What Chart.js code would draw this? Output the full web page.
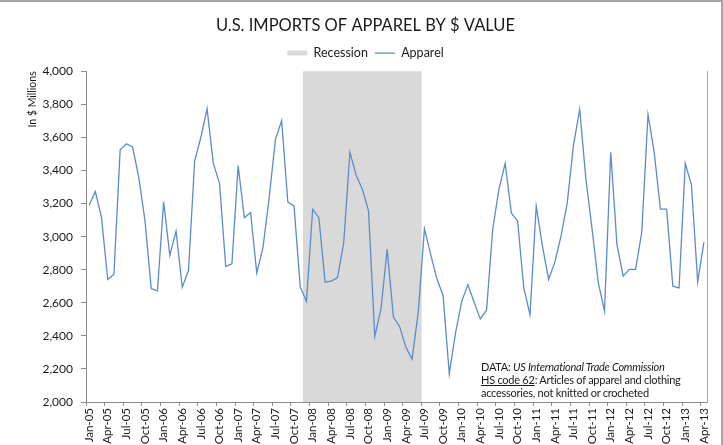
<!DOCTYPE html>
<html>
<head>
<meta charset="utf-8">
<script src="https://cdn.jsdelivr.net/npm/chart.js@4.4.0/dist/chart.umd.min.js"></script>
<style>
  body { margin: 0; background: #fff; }
  #wrap { position: relative; width: 723px; height: 445px; }
  #note {
    position: absolute; left: 481px; top: 360px;
    font-family: Lato, sans-serif; font-size: 11px; letter-spacing: -0.25px; line-height: 13px; color: #1a1a1a;
    white-space: nowrap;
  }
  #note u { text-decoration: underline; }
</style>
</head>
<body>
<div id="wrap">
  <canvas id="importsChart" width="723" height="445"></canvas>
  <div id="note">DATA: <i>US International Trade Commission</i><br><u>HS code 62</u>: Articles of apparel and clothing<br>accessories, not knitted or crocheted</div>
</div>
<script>
// monthly categories, Jan-05 .. Apr-13
var months = [
  'Jan-05','Feb-05','Mar-05','Apr-05','May-05','Jun-05','Jul-05','Aug-05','Sep-05','Oct-05','Nov-05','Dec-05',
  'Jan-06','Feb-06','Mar-06','Apr-06','May-06','Jun-06','Jul-06','Aug-06','Sep-06','Oct-06','Nov-06','Dec-06',
  'Jan-07','Feb-07','Mar-07','Apr-07','May-07','Jun-07','Jul-07','Aug-07','Sep-07','Oct-07','Nov-07','Dec-07',
  'Jan-08','Feb-08','Mar-08','Apr-08','May-08','Jun-08','Jul-08','Aug-08','Sep-08','Oct-08','Nov-08','Dec-08',
  'Jan-09','Feb-09','Mar-09','Apr-09','May-09','Jun-09','Jul-09','Aug-09','Sep-09','Oct-09','Nov-09','Dec-09',
  'Jan-10','Feb-10','Mar-10','Apr-10','May-10','Jun-10','Jul-10','Aug-10','Sep-10','Oct-10','Nov-10','Dec-10',
  'Jan-11','Feb-11','Mar-11','Apr-11','May-11','Jun-11','Jul-11','Aug-11','Sep-11','Oct-11','Nov-11','Dec-11',
  'Jan-12','Feb-12','Mar-12','Apr-12','May-12','Jun-12','Jul-12','Aug-12','Sep-12','Oct-12','Nov-12','Dec-12',
  'Jan-13','Feb-13','Mar-13','Apr-13'
];

// apparel imports, $ millions
var apparel = [
  3190, 3273, 3115, 2741, 2773, 3526, 3561, 3542, 3358, 3095, 2686, 2672,
  3210, 2887, 3034, 2694, 2795, 3459, 3601, 3773, 3443, 3322, 2820, 2836,
  3429, 3115, 3146, 2781, 2933, 3237, 3587, 3702, 3210, 3186, 2696, 2609,
  3166, 3115, 2725, 2731, 2753, 2963, 3510, 3372, 3287, 3156, 2397, 2563,
  2923, 2514, 2457, 2332, 2259, 2542, 3048, 2893, 2745, 2644, 2170, 2417,
  2609, 2710, 2603, 2502, 2555, 3048, 3287, 3443, 3142, 3095, 2690, 2528,
  3186, 2943, 2741, 2846, 3004, 3206, 3554, 3769, 3348, 3044, 2721, 2549,
  3510, 2953, 2761, 2802, 2802, 3028, 3739, 3510, 3166, 3166, 2700, 2690,
  3443, 3312, 2727, 2967
];

// recession months (shaded band)
var recessionStart = 'Dec-07';
var recessionEnd = 'Jun-09';

var yTicks = { min: 2000, max: 4000, step: 200 };

var lineColor = '#5b8bc9';
var bandColor = '#d9d9d9';
var axisColor = '#8c8c8c';
var textColor = '#1a1a1a';

var i0 = months.indexOf(recessionStart);
var i1 = months.indexOf(recessionEnd);
var recession = months.map(function(m, i) { return (i >= i0 && i <= i1) ? 1 : null; });

// outer frame like the original export
var framePlugin = {
  id: 'frame',
  afterDraw: function(chart) {
    var c = chart.ctx;
    c.save();
    c.strokeStyle = '#a6a6a6';
    c.lineWidth = 2;
    c.beginPath();
    c.moveTo(0, 1);
    c.lineTo(722, 1);
    c.lineTo(722, 445);
    c.stroke();
    c.restore();
  }
};

// a bit more room under the legend
var legendGap = {
  id: 'legendGap',
  afterInit: function(chart) {
    var lg = chart.legend;
    var fit = lg.fit;
    lg.fit = function() {
      fit.call(this);
      this.height += 2;
    };
  }
};

var ctx = document.getElementById('importsChart').getContext('2d');
var importsChart = new Chart(ctx, {
  type: 'line',
  data: {
    labels: months,
    datasets: [
      {
        type: 'line',
        label: 'Apparel',
        data: apparel,
        borderColor: lineColor,
        backgroundColor: lineColor,
        borderWidth: 1.3,
        pointRadius: 0,
        tension: 0,
        yAxisID: 'y',
        order: 0
      },
      {
        type: 'bar',
        label: 'Recession',
        data: recession,
        backgroundColor: bandColor,
        borderWidth: 0,
        barPercentage: 1,
        categoryPercentage: 1,
        yAxisID: 'y2',
        order: 1
      }
    ]
  },
  options: {
    responsive: false,
    animation: false,
    layout: { padding: { left: 8, right: 0, top: 0, bottom: 0 } },
    plugins: {
      title: {
        display: true,
        text: 'U.S. IMPORTS OF APPAREL BY $ VALUE',
        color: textColor,
        font: { family: 'Lato', size: 16.5, weight: 'normal' },
        padding: { top: 16, bottom: 4 }
      },
      legend: {
        display: true,
        labels: {
          color: textColor,
          font: { family: 'Lato', size: 12.5 },
          usePointStyle: true,
          pointStyleWidth: 20,
          boxWidth: 20,
          boxHeight: 5,
          padding: 7,
          generateLabels: function() {
            return [
              { text: 'Recession', fillStyle: bandColor, strokeStyle: bandColor, lineWidth: 0, pointStyle: 'rect', datasetIndex: 1, fontColor: textColor },
              { text: 'Apparel', fillStyle: lineColor, strokeStyle: lineColor, lineWidth: 1.3, pointStyle: 'line', datasetIndex: 0, fontColor: textColor }
            ];
          }
        }
      },
      tooltip: { enabled: false }
    },
    scales: {
      x: {
        type: 'category',
        offset: true,
        afterFit: function(s) { s.height = 43; },
        grid: {
          offset: true,
          drawOnChartArea: false,
          drawTicks: true,
          tickLength: 4,
          tickColor: function(c) { return c.index % 3 === 0 ? axisColor : 'rgba(0,0,0,0)'; }
        },
        border: { display: true, color: axisColor, width: 1 },
        ticks: {
          autoSkip: false,
          minRotation: 90,
          maxRotation: 90,
          padding: 2,
          color: textColor,
          font: { family: 'Lato', size: 11.5 },
          callback: function(v, i) { return i % 3 === 0 ? months[i] : ''; }
        }
      },
      y: {
        position: 'left',
        min: yTicks.min,
        max: yTicks.max,
        afterFit: function(s) { s.width = 78; },
        grid: { drawOnChartArea: false, drawTicks: true, tickLength: 5, tickColor: axisColor },
        border: { display: true, color: axisColor, width: 1 },
        ticks: {
          stepSize: yTicks.step,
          padding: 8,
          color: textColor,
          font: { family: 'Lato', size: 12 },
          callback: function(v) { return v.toLocaleString('en-US'); }
        },
        title: {
          display: true,
          text: 'In $ Millions',
          align: 'end',
          color: textColor,
          font: { family: 'Lato', size: 10.5 },
          padding: { top: 18, bottom: 0 }
        }
      },
      y2: {
        position: 'right',
        min: 0,
        max: 1,
        afterFit: function(s) { s.width = 16; },
        grid: { display: false, drawTicks: false },
        border: { display: true, color: '#a6a6a6', width: 1 },
        ticks: { display: false }
      }
    }
  },
  plugins: [framePlugin, legendGap]
});
</script>
</body>
</html>
